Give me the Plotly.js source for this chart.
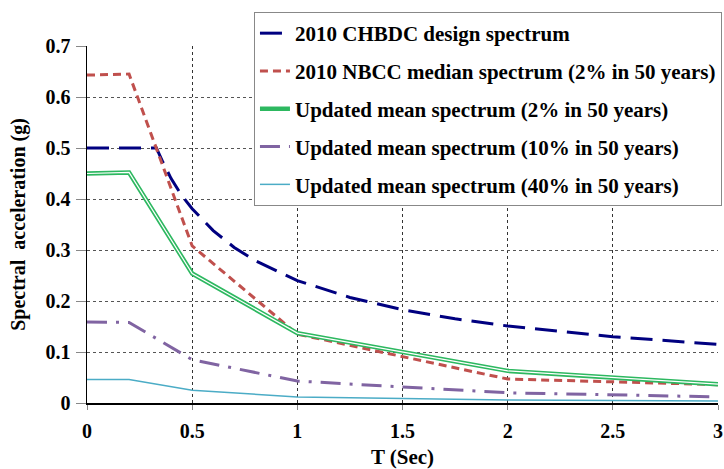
<!DOCTYPE html>
<html><head><meta charset="utf-8">
<script src="https://cdn.plot.ly/plotly-3.0.1.min.js"></script>
<style>body{margin:0;background:#fff}</style>
</head><body><div id="chart" style="width:724px;height:469px"></div>
<script>
const chbdcT = [0, 0.33, 0.36, 0.4, 0.45, 0.5, 0.6, 0.7, 0.8, 0.9, 1.0, 1.25, 1.5, 1.75, 2.0, 2.5, 3.0];
const chbdcSa = [0.5, 0.5, 0.473, 0.44, 0.407, 0.381, 0.338, 0.305, 0.279, 0.259, 0.24, 0.207, 0.183, 0.165, 0.151, 0.13, 0.115];
const nbccT = [0, 0.2, 0.5, 1.0, 2.0, 3.0];
const nbccSa = [0.643, 0.645, 0.308, 0.135, 0.047, 0.036];
const mean2T = [0, 0.2, 0.5, 1.0, 2.0, 3.0];
const mean2Sa = [0.45, 0.452, 0.254, 0.137, 0.063, 0.037];
const mean10T = [0, 0.2, 0.5, 1.0, 2.0, 3.0];
const mean10Sa = [0.159, 0.158, 0.085, 0.043, 0.02, 0.012];
const mean40T = [0, 0.2, 0.5, 1.0, 2.0, 3.0];
const mean40Sa = [0.046, 0.046, 0.025, 0.012, 0.006, 0.004];
const xTickVals = [0, 0.5, 1, 1.5, 2, 2.5, 3];
const xTickText = ["0", "0.5", "1", "1.5", "2", "2.5", "3"];
const yTickVals = [0, 0.1, 0.2, 0.3, 0.4, 0.5, 0.6, 0.7];
const yTickText = ["0", "0.1", "0.2", "0.3", "0.4", "0.5", "0.6", "0.7"];
const names = [
  "2010 CHBDC design spectrum",
  "2010 NBCC median spectrum (2% in 50 years)",
  "Updated mean spectrum (2% in 50 years)",
  "Updated mean spectrum (10% in 50 years)",
  "Updated mean spectrum (40% in 50 years)"
];
const traces = [
  {x: chbdcT, y: chbdcSa, name: names[0], legendgroup: "a", mode: "lines",
   line: {color: "#000080", width: 3, dash: "22px,10px"}},
  {x: nbccT, y: nbccSa, name: names[1], legendgroup: "b", mode: "lines",
   line: {color: "#C0504D", width: 3, dash: "8px,5px"}},
  {x: mean2T, y: mean2Sa, name: names[2], legendgroup: "c", mode: "lines",
   line: {color: "#2DB860", width: 4.5}},
  {x: mean2T, y: mean2Sa, name: names[2], legendgroup: "c", mode: "lines", showlegend: false, hoverinfo: "skip",
   line: {color: "#ffffff", width: 1.2}},
  {x: mean10T, y: mean10Sa, name: names[3], legendgroup: "d", mode: "lines",
   line: {color: "#8064A2", width: 3, dash: "20px,9px,3px,9px"}},
  {x: mean40T, y: mean40Sa, name: names[4], legendgroup: "e", mode: "lines",
   line: {color: "#4BACC6", width: 1.5}}
];
const fam = "Liberation Serif";
const layout = {
  width: 724, height: 469,
  margin: {l: 87, r: 2, t: 46, b: 66},
  paper_bgcolor: "#fff", plot_bgcolor: "#fff",
  font: {family: fam, color: "#000", size: 16},
  showlegend: true,
  legend: {x: 0.2646, xanchor: "left", y: 1.0952, yanchor: "top",
    bgcolor: "#fff", bordercolor: "#888", borderwidth: 1,
    traceorder: "grouped", tracegroupgap: 7.5, itemwidth: 30,
    font: {family: fam, size: 21, color: "#000", weight: "bold"}},
  xaxis: {range: [0, 3], tickvals: xTickVals, ticktext: xTickText,
    showgrid: true, gridcolor: "#333", griddash: "dot", gridwidth: 1,
    showline: true, linecolor: "#000", linewidth: 1.5, zeroline: false,
    ticks: "outside", ticklen: 5, tickcolor: "#888", ticklabelstandoff: 4,
    ticklabeloverflow: "allow",
    tickfont: {family: fam, size: 20, weight: "bold", color: "#000"},
    title: {text: "T (Sec)", standoff: 18, font: {family: fam, size: 21, weight: "bold", color: "#000"}}},
  yaxis: {range: [0, 0.7], tickvals: yTickVals, ticktext: yTickText,
    showgrid: true, gridcolor: "#555", griddash: "dot", gridwidth: 1,
    showline: true, linecolor: "#000", linewidth: 1.5, zeroline: false,
    ticks: "outside", ticklen: 10, tickcolor: "#888", ticklabelstandoff: 1,
    tickfont: {family: fam, size: 20, weight: "bold", color: "#000"},
    title: {text: "Spectral  acceleration (g)", standoff: 14, font: {family: fam, size: 20, weight: "bold", color: "#000"}}}
};
Plotly.newPlot("chart", traces, layout, {displayModeBar: false, staticPlot: true});
</script>
</body></html>
